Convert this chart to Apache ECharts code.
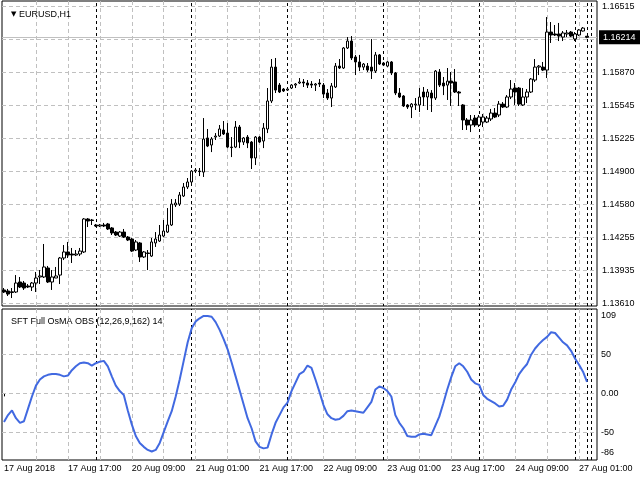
<!DOCTYPE html>
<html><head><meta charset="utf-8">
<script src="https://cdn.jsdelivr.net/npm/echarts@6/dist/echarts.min.js"></script>
<style>html,body{margin:0;padding:0;background:#fff}#c{width:640px;height:480px}</style>
</head><body><div id="c"></div>
<script>
// ---- data ----
const days = ['17 Aug','20 Aug','21 Aug','22 Aug','23 Aug','24 Aug','27 Aug'];
const open = [
1.13740,1.13730,1.13722,1.13720,1.13818,1.13808,1.13779,1.13769,1.13808,1.13867,
1.13867,1.13955,1.13818,1.13857,1.13886,1.14053,1.14112,1.14092,1.14082,1.14092,
1.14112,1.14435,1.14425,1.14376,1.14366,1.14376,1.14386,1.14347,1.14307,1.14268,
1.14307,1.14258,1.14239,1.14131,1.14200,1.14063,1.14102,1.14072,1.14200,1.14219,
1.14268,1.14307,1.14376,1.14572,1.14581,1.14660,1.14748,1.14797,1.14904,1.14904,
1.14894,1.15228,1.15159,1.15237,1.15247,1.15306,1.15276,1.15139,1.15139,1.15335,
1.15188,1.15237,1.15188,1.15032,1.15237,1.15198,1.15316,1.15590,1.15922,1.15746,
1.15707,1.15697,1.15717,1.15746,1.15766,1.15776,1.15766,1.15756,1.15746,1.15766,
1.15746,1.15668,1.15619,1.15727,1.15932,1.15913,1.16109,1.16177,1.16021,1.15972,
1.15922,1.15932,1.15922,1.15883,1.16041,1.15962,1.15932,1.15972,1.15864,1.15668,
1.15639,1.15551,1.15531,1.15551,1.15551,1.15678,1.15629,1.15668,1.15619,1.15874,
1.15766,1.15746,1.15785,1.15776,1.15678,1.15551,1.15404,1.15355,1.15423,1.15355,
1.15384,1.15384,1.15414,1.15472,1.15453,1.15560,1.15531,1.15629,1.15717,1.15717,
1.15551,1.15629,1.15678,1.15795,1.15922,1.15922,1.15893,1.16265,1.16246,1.16246,
1.16216,1.16246,1.16265,1.16197,1.16236,1.16275,1.16224];
const close = [
1.13720,1.13700,1.13715,1.13808,1.13769,1.13759,1.13769,1.13808,1.13857,1.13877,
1.13965,1.13818,1.13867,1.13877,1.14053,1.14112,1.14082,1.14082,1.14092,1.14121,
1.14435,1.14415,1.14420,1.14366,1.14376,1.14366,1.14337,1.14298,1.14278,1.14307,
1.14258,1.14229,1.14121,1.14210,1.14063,1.14112,1.14097,1.14210,1.14239,1.14278,
1.14317,1.14376,1.14581,1.14591,1.14670,1.14748,1.14797,1.14904,1.14914,1.14899,
1.15218,1.15149,1.15218,1.15247,1.15316,1.15267,1.15139,1.15134,1.15335,1.15188,
1.15228,1.15179,1.15032,1.15237,1.15188,1.15325,1.15590,1.15922,1.15697,1.15678,
1.15688,1.15707,1.15746,1.15756,1.15776,1.15766,1.15746,1.15746,1.15756,1.15756,
1.15658,1.15619,1.15737,1.15932,1.15913,1.16109,1.16177,1.16011,1.15972,1.15922,
1.15952,1.15893,1.15883,1.16041,1.15952,1.15942,1.15972,1.15864,1.15668,1.15629,
1.15541,1.15531,1.15560,1.15560,1.15629,1.15629,1.15678,1.15619,1.15883,1.15746,
1.15737,1.15785,1.15766,1.15678,1.15668,1.15404,1.15355,1.15404,1.15355,1.15433,
1.15433,1.15423,1.15472,1.15433,1.15560,1.15531,1.15629,1.15707,1.15678,1.15560,
1.15629,1.15678,1.15805,1.15922,1.15932,1.15893,1.16265,1.16236,1.16236,1.16226,
1.16256,1.16256,1.16226,1.16246,1.16285,1.16304,1.16214];
const low = [
1.13710,1.13681,1.13661,1.13710,1.13759,1.13740,1.13759,1.13730,1.13720,1.13798,
1.13857,1.13808,1.13740,1.13857,1.13798,1.14033,1.14053,1.14004,1.14072,1.14072,
1.14102,1.14356,1.14376,1.14356,1.14356,1.14356,1.14327,1.14278,1.14268,1.14258,
1.14249,1.14219,1.14112,1.14121,1.14014,1.14053,1.13935,1.14063,1.14161,1.14210,
1.14258,1.14298,1.14366,1.14552,1.14562,1.14650,1.14728,1.14787,1.14885,1.14855,
1.14846,1.15139,1.15090,1.15208,1.15237,1.15257,1.15129,1.15041,1.15129,1.15129,
1.15159,1.15129,1.14924,1.14963,1.15179,1.15129,1.15276,1.15570,1.15668,1.15668,
1.15678,1.15688,1.15707,1.15717,1.15756,1.15727,1.15717,1.15717,1.15688,1.15727,
1.15619,1.15600,1.15531,1.15717,1.15903,1.15903,1.16099,1.15991,1.15844,1.15883,
1.15893,1.15874,1.15805,1.15864,1.15942,1.15932,1.15922,1.15844,1.15648,1.15619,
1.15531,1.15512,1.15423,1.15502,1.15482,1.15541,1.15502,1.15482,1.15600,1.15727,
1.15648,1.15600,1.15541,1.15668,1.15541,1.15306,1.15306,1.15286,1.15335,1.15335,
1.15335,1.15374,1.15394,1.15423,1.15433,1.15521,1.15521,1.15609,1.15551,1.15541,
1.15541,1.15570,1.15668,1.15776,1.15844,1.15883,1.15815,1.16158,1.16226,1.16177,
1.16177,1.16216,1.16216,1.16177,1.16226,1.16270,1.16205];
const high = [
1.13759,1.13750,1.13759,1.13886,1.13867,1.13828,1.13798,1.13818,1.13916,1.13935,
1.14190,1.13975,1.13935,1.13965,1.14063,1.14180,1.14210,1.14151,1.14131,1.14151,
1.14444,1.14444,1.14435,1.14386,1.14386,1.14396,1.14396,1.14356,1.14317,1.14317,
1.14337,1.14268,1.14249,1.14229,1.14210,1.14121,1.14131,1.14249,1.14307,1.14376,
1.14425,1.14542,1.14630,1.14630,1.14699,1.14787,1.14836,1.14914,1.14934,1.14934,
1.15423,1.15316,1.15237,1.15276,1.15355,1.15394,1.15374,1.15237,1.15394,1.15355,
1.15237,1.15257,1.15198,1.15247,1.15247,1.15374,1.15717,1.16001,1.16011,1.15766,
1.15717,1.15717,1.15756,1.15766,1.15815,1.15805,1.15795,1.15785,1.15766,1.15805,
1.15766,1.15707,1.15766,1.15962,1.16001,1.16118,1.16216,1.16226,1.16041,1.16041,
1.15962,1.15962,1.16197,1.16070,1.16050,1.15972,1.15981,1.15981,1.15874,1.15717,
1.15648,1.15560,1.15570,1.15619,1.15717,1.15727,1.15707,1.15697,1.15893,1.15903,
1.15825,1.15913,1.15874,1.15903,1.15688,1.15560,1.15423,1.15453,1.15453,1.15453,
1.15463,1.15443,1.15512,1.15521,1.15590,1.15580,1.15648,1.15795,1.15766,1.15727,
1.15717,1.15707,1.15815,1.16001,1.15942,1.15972,1.16412,1.16363,1.16334,1.16354,
1.16275,1.16285,1.16275,1.16265,1.16295,1.16314,1.16226];
const osma = [
-37,-28,-22,-32,-38,-36,-20,-4,10,18,
22,24,25,25,24,22,23,30,35,39,
40,39,36,39,41,42,35,22,10,3,
-2,-22,-40,-55,-64,-69,-73,-75,-73,-64,
-50,-36,-23,-4,18,42,66,84,93,97,
100,100,99,92,82,70,57,40,22,4,
-14,-32,-45,-62,-69,-71,-70,-53,-38,-28,
-18,-12,3,14,25,28,36,33,18,2,
-15,-27,-32,-34,-33,-29,-23,-22,-23,-24,
-25,-18,-11,5,9,7,3,-4,-28,-38,
-45,-55,-56,-56,-53,-52,-53,-54,-42,-30,
-13,5,21,35,39,35,28,18,13,11,
-2,-7,-10,-13,-17,-16,-8,5,14,25,
32,38,50,58,64,69,73,79,78,72,
66,62,55,45,37,28,15];
const priceTicks = [1.13610,1.13935,1.14255,1.14580,1.14900,1.15225,1.15545,1.15870,1.16190,1.16515];
const priceTickLabels = ['1.13610','1.13935','1.14255','1.14580','1.14900','1.15225','1.15545','1.15870','','1.16515'];
const bidPrice = 1.16214;
const oscTicks = [-86,-50,0,50,100,109];
const oscGridLevels = [-50,0,50];
const separators = [23,47,71,95,119,143,146,147];
const title1 = 'EURUSD,H1';
const title2 = 'SFT Full OsMA OBS (12,26,9,162) 14';

// ---- build ----
const N = 149;
const categories = [];
days.forEach((d, di) => {
  for (let h = (di === 0 ? 1 : 0); h < 24 && categories.length < N; h++)
    categories.push(d + ' ' + String(h).padStart(2, '0') + ':00');
});
const candleData = open.map((o, i) => [o, close[i], low[i], high[i]]);
const FONT = '"Liberation Sans", Arial, sans-serif';
const GRAY = '#c0c0c0';
const grayLine = { color: GRAY, type: [4, 3], width: 1 };
const sepLine = { color: '#000', type: [3, 3], width: 1 };

function vLines() {
  const out = [];
  for (let i = 8; i < N; i += 8) out.push({ xAxis: categories[i], lineStyle: grayLine, label: { show: false } });
  separators.forEach(i => out.push({ xAxis: categories[i], lineStyle: sepLine, label: { show: false } }));
  return out;
}
const mainLines = vLines();
priceTicks.forEach((v, k) => mainLines.push({
  yAxis: v, lineStyle: grayLine,
  label: { show: priceTickLabels[k] !== '', position: 'end', distance: 5, formatter: priceTickLabels[k],
           color: '#000', fontSize: 9, fontFamily: FONT }
}));
mainLines.push({
  yAxis: bidPrice, lineStyle: { color: GRAY, type: 'solid', width: 1 },
  label: { show: true, position: 'end', distance: 2, formatter: bidPrice.toFixed(5),
           color: '#fff', backgroundColor: '#000', padding: [3, 6, 2, 4], fontSize: 9, fontFamily: FONT }
});
const oscLines = vLines();
oscGridLevels.forEach(v => oscLines.push({ yAxis: v, lineStyle: grayLine, label: { show: false } }));

const chart = echarts.init(document.getElementById('c'), null, { renderer: 'canvas' });
chart.setOption({
  animation: false,
  backgroundColor: '#fff',
  title: [
    { text: '{t|▼} ' + title1, left: 6, top: 5,
      textStyle: { fontSize: 9, fontWeight: 'normal', fontFamily: FONT, color: '#000',
                   rich: { t: { fontSize: 7, fontFamily: 'DejaVu Sans', color: '#000' } } } },
    { text: title2, left: 6, top: 312,
      textStyle: { fontSize: 9, fontWeight: 'normal', fontFamily: FONT, color: '#000' } }
  ],
  grid: [
    { left: 2, right: 43, top: 1, height: 305, show: true, borderColor: '#000', borderWidth: 1, backgroundColor: 'transparent', outerBoundsMode: 'none', containLabel: false },
    { left: 2, right: 43, top: 309, height: 151, show: true, borderColor: '#000', borderWidth: 1, backgroundColor: 'transparent', outerBoundsMode: 'none', containLabel: false }
  ],
  xAxis: [
    { type: 'category', gridIndex: 0, data: categories, boundaryGap: true,
      axisLine: { show: false }, axisTick: { show: false }, axisLabel: { show: false }, splitLine: { show: false } },
    { type: 'category', gridIndex: 1, data: categories, boundaryGap: true,
      axisLine: { show: false },
      axisTick: { show: true, interval: (i) => i % 16 === 0, alignWithLabel: true, length: 3, lineStyle: { color: '#000' } },
      axisLabel: { show: true, interval: (i) => i % 16 === 0, align: 'left', margin: 4, color: '#000', fontSize: 9, fontFamily: FONT,
                   formatter: (v, i) => i === 0 ? '17 Aug 2018' : v },
      splitLine: { show: false } }
  ],
  yAxis: [
    { type: 'value', gridIndex: 0, position: 'right', min: 1.13583, max: 1.16569, scale: true,
      axisLine: { show: false }, axisTick: { show: false }, axisLabel: { show: false }, splitLine: { show: false } },
    { type: 'value', gridIndex: 1, position: 'right', min: -86, max: 109, interval: 50,
      axisLine: { show: false }, axisTick: { show: false }, splitLine: { show: false },
      axisLabel: { show: true, customValues: oscTicks, showMinLabel: true, showMaxLabel: true, hideOverlap: false, margin: 4, color: '#000', fontSize: 9, fontFamily: FONT,
        formatter: (v) => v === 0 ? '0.00' : v === -86 ? '{lo|-86}' : v === 109 ? '{hi|109}' : String(v),
        rich: { lo: { padding: [0, 0, 14, 0], fontSize: 9, fontFamily: FONT, color: '#000' },
                hi: { padding: [13, 0, 0, 0], fontSize: 9, fontFamily: FONT, color: '#000' } } } }
  ],
  series: [
    { type: 'candlestick', xAxisIndex: 0, yAxisIndex: 0, data: candleData, barWidth: 3, z: 2,
      itemStyle: { color: '#fff', color0: '#000', borderColor: '#000', borderColor0: '#000', borderColorDoji: '#000', borderWidth: 1 },
      markLine: { silent: true, symbol: ['none', 'none'], animation: false, precision: 5, z: 1, data: mainLines } },
    { type: 'line', xAxisIndex: 1, yAxisIndex: 1, data: osma, showSymbol: false, symbol: 'none', z: 2,
      lineStyle: { color: '#4169E1', width: 2 },
      markLine: { silent: true, symbol: ['none', 'none'], animation: false, precision: 5, z: 1, data: oscLines } }
  ]
});
</script></body></html>
